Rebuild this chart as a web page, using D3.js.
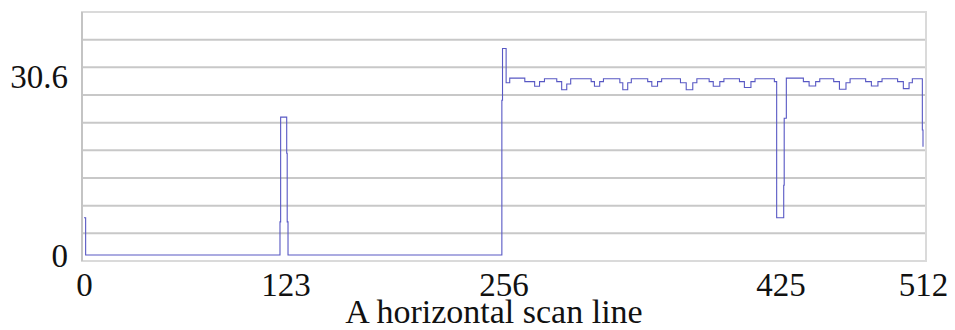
<!DOCTYPE html>
<html>
<head>
<meta charset="utf-8">
<script src="https://cdn.jsdelivr.net/npm/d3@7"></script>
<style>
  body { margin: 0; background: #fff; }
  text { font-family: "Liberation Serif", "DejaVu Serif", serif; font-size: 33px; fill: #111; }
</style>
</head>
<body>
<svg id="chart"></svg>
<script>
// tick values / labels
const xTicks = [0, 123, 256, 425, 512];
const yTicks = [0, 30.6];
const xTitle = 'A horizontal scan line';

// scan line levels as [pixel index, level] breakpoints (step-after)
const scanX = [
  0, 1, 119.6, 120, 123.7, 124, 124.5,
  255, 255.4, 257.6, 259.8,
  269, 275, 278, 281,
  288.5, 291.5, 294.6, 297,
  309.5, 311.5, 314.7, 317,
  327, 328.8, 331.8, 334,
  344, 346.5, 350, 352.5,
  364, 367.5, 371.5, 374,
  381.5, 384, 388, 390.5,
  400, 403, 407, 409.5,
  421.3, 422.7, 427, 427.3, 428.6,
  439, 442.5, 446.5, 449,
  457.5, 461, 465, 467.5,
  477, 480.5, 484.5, 487,
  496.5, 500, 503.5, 505.5,
  511.6, 512
];
const scanY = [
  6.4, 0, 5.7, 23.7, 17.5, 5.7, 0,
  26.6, 35.5, 29.6, 30.4,
  29.8, 29.0, 29.8, 30.3,
  29.8, 28.4, 29.4, 30.3,
  29.8, 29.0, 29.8, 30.3,
  29.6, 28.4, 29.6, 30.3,
  29.8, 29.0, 29.8, 30.3,
  29.6, 28.4, 29.6, 30.3,
  29.8, 29.0, 29.8, 30.3,
  29.8, 28.8, 29.8, 30.3,
  29.8, 6.4, 12.0, 23.5, 30.4,
  29.8, 29.05, 29.8, 30.3,
  29.8, 28.5, 29.6, 30.3,
  29.8, 29.05, 29.8, 30.3,
  29.8, 28.6, 29.6, 30.3,
  21.5, 18.6
];

const svgWidth = 955;
const svgHeight = 330;
const margin = { top: 12, right: 29, bottom: 69, left: 82 };
const plotRight = svgWidth - margin.right;
const plotBottom = svgHeight - margin.bottom;

const svg = d3.select('#chart')
  .attr('width', svgWidth)
  .attr('height', svgHeight);

const x = d3.scaleLinear()
  .domain([0, 512])
  .range([margin.left + 2, plotRight - 3]);
const y = d3.scaleLinear()
  .domain([-1.03, 41.77])
  .range([plotBottom, margin.top]);

// horizontal grid: box split into 9 even bands
const [y0, y1] = y.domain();
const gridVals = d3.range(10).map(i => y0 + i * (y1 - y0) / 9);
svg.append('g')
  .selectAll('line')
  .data(gridVals.slice(1, -1))
  .enter()
  .append('line')
  .attr('x1', margin.left)
  .attr('x2', plotRight)
  .attr('y1', d => y(d))
  .attr('y2', d => y(d))
  .attr('stroke', '#c8c8c8')
  .attr('stroke-width', 2);

// frame
svg.append('rect')
  .attr('x', margin.left)
  .attr('y', margin.top)
  .attr('width', plotRight - margin.left)
  .attr('height', plotBottom - margin.top)
  .attr('fill', 'none')
  .attr('stroke', '#dadada')
  .attr('stroke-width', 2);
svg.append('line')
  .attr('x1', margin.left).attr('x2', margin.left)
  .attr('y1', margin.top).attr('y2', plotBottom)
  .attr('stroke', '#c4c4c4')
  .attr('stroke-width', 2);

// the scan line
const points = scanX.map((d, i) => [d, scanY[i]]);
const line = d3.line()
  .x(d => x(d[0]))
  .y(d => y(d[1]))
  .curve(d3.curveStepAfter);
svg.append('path')
  .datum(points)
  .attr('d', line)
  .attr('fill', 'none')
  .attr('stroke', '#5858c4')
  .attr('stroke-width', 1.1);

// axes (labels only, no tick marks)
const xAxis = d3.axisBottom(x).tickValues(xTicks).tickSize(0).tickPadding(0);
const gX = svg.append('g')
  .attr('transform', 'translate(0,' + plotBottom + ')')
  .call(xAxis);
gX.select('.domain').remove();
gX.selectAll('text')
  .attr('dy', null)
  .attr('y', 35);

const yAxis = d3.axisLeft(y).tickValues(yTicks).tickSize(0).tickFormat(d => d);
const gY = svg.append('g')
  .attr('transform', 'translate(' + (margin.left - 14) + ',0)')
  .call(yAxis);
gY.select('.domain').remove();
gY.selectAll('text')
  .attr('x', 0)
  .attr('dy', null)
  .attr('y', 11);

svg.selectAll('.tick text')
  .style('font-family', '"Liberation Serif", "DejaVu Serif", serif')
  .style('font-size', '33px')
  .attr('fill', '#111');

svg.append('text')
  .attr('x', 494)
  .attr('y', 323)
  .attr('text-anchor', 'middle')
  .style('font-size', '34px')
  .text(xTitle);
</script>
</body>
</html>
